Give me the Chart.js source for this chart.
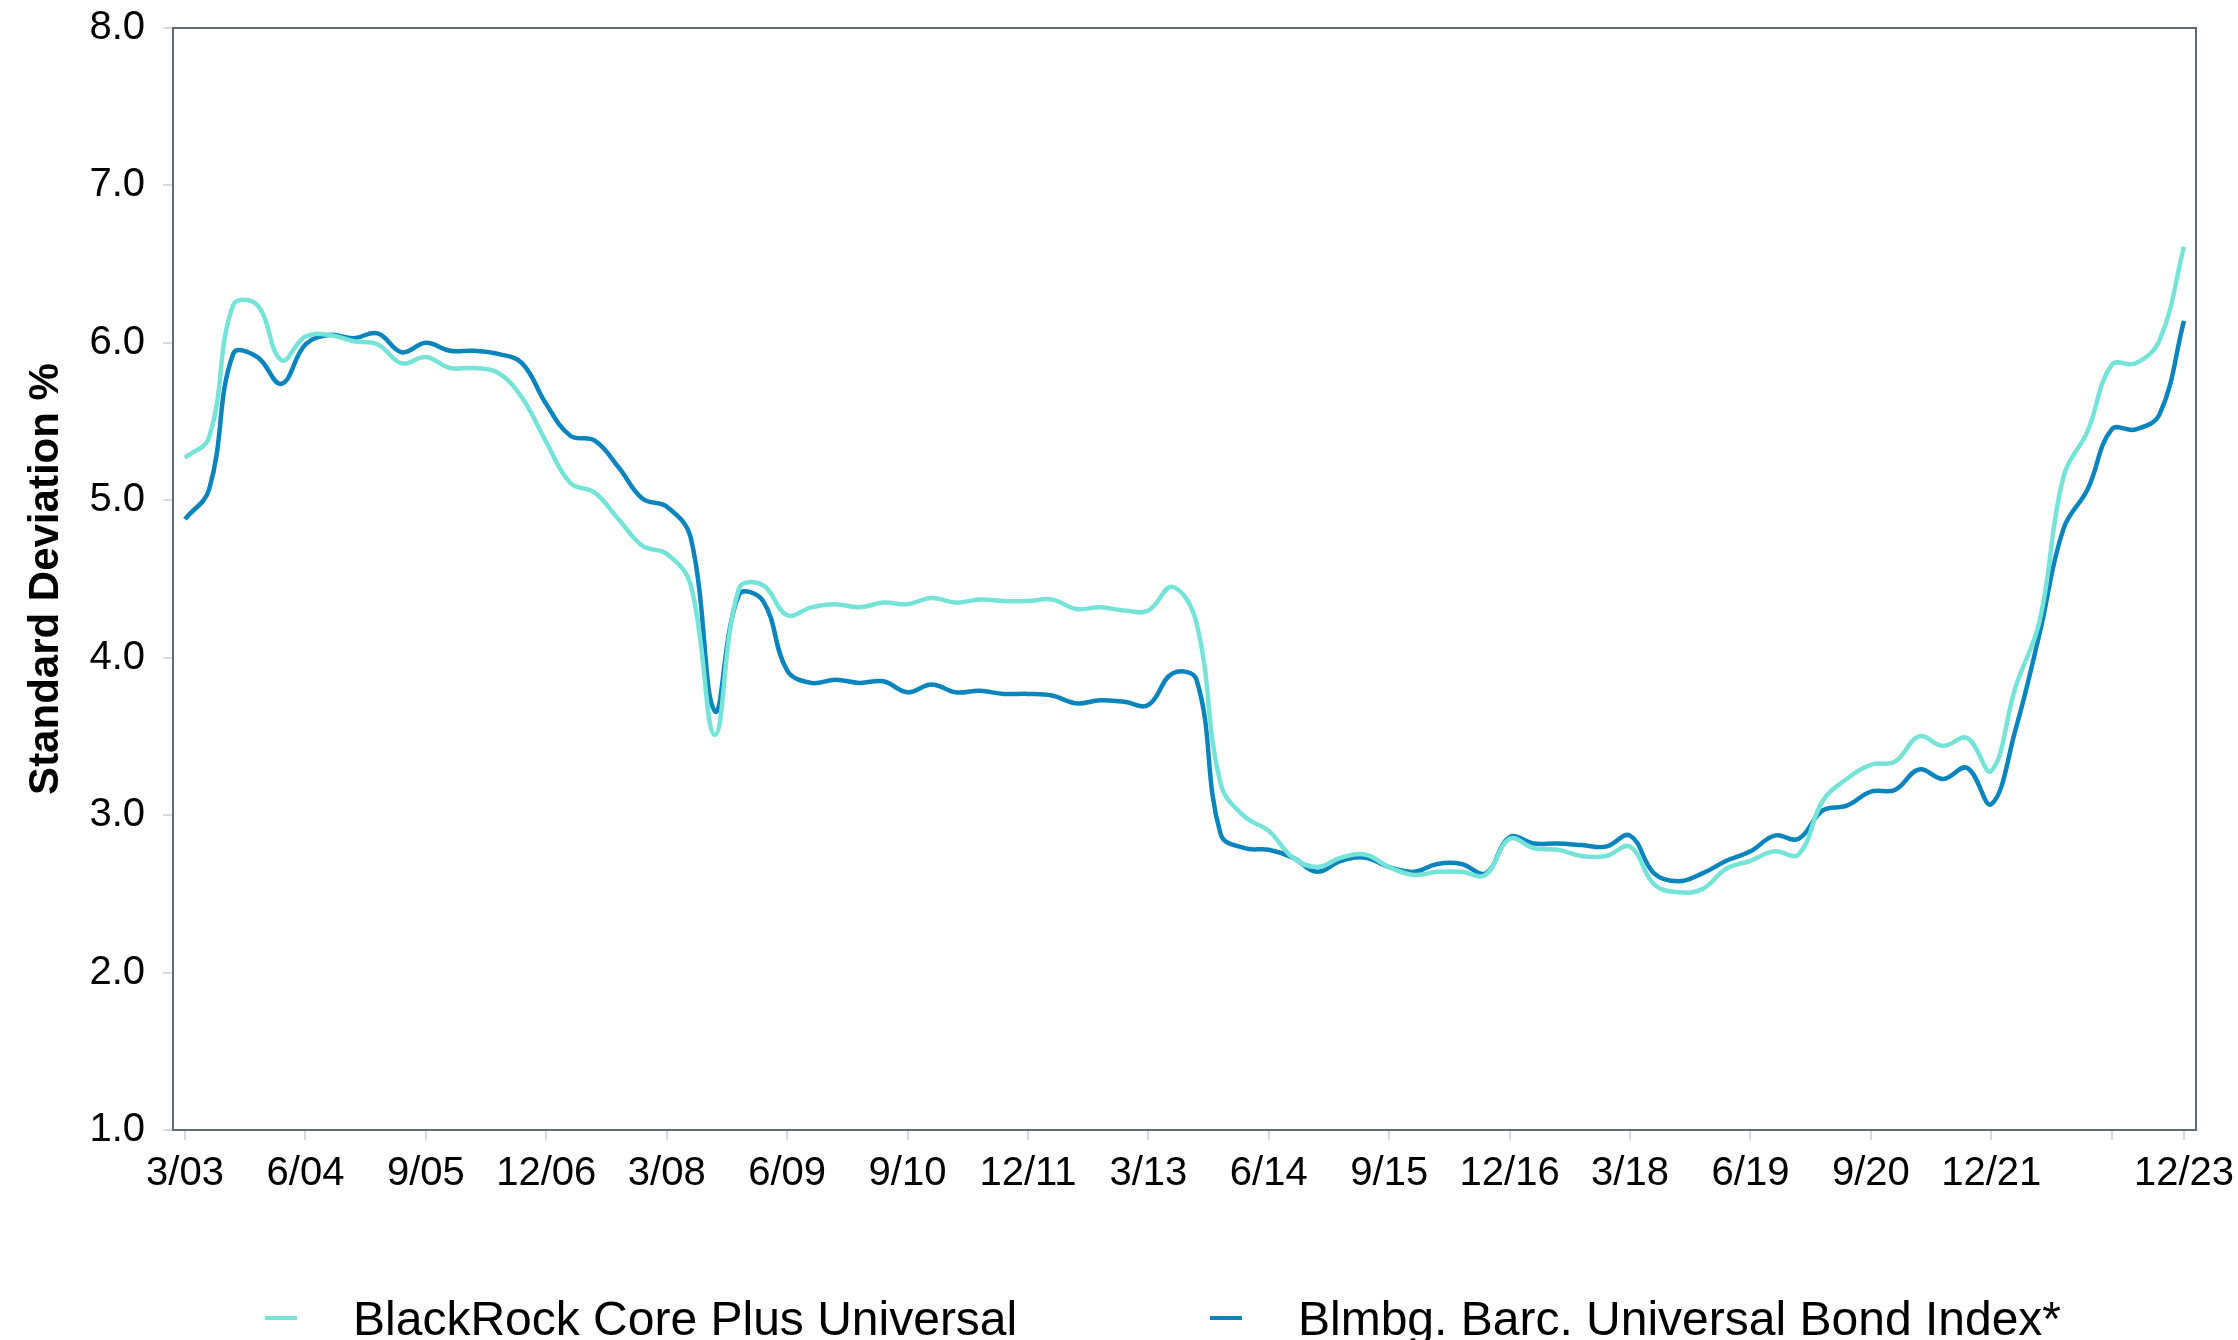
<!DOCTYPE html>
<html>
<head>
<meta charset="utf-8">
<title>Standard Deviation</title>
<script src="https://cdn.jsdelivr.net/npm/chart.js@4.4.1/dist/chart.umd.min.js"></script>
<style>
  html, body { margin: 0; padding: 0; background: #fff; }
  #wrap { width: 2238px; height: 1340px; }
</style>
</head>
<body>
<div id="wrap"><canvas id="chartStdDev" width="2238" height="1340"></canvas></div>
<script>
// ── Data (quarterly, 3/03 → 12/23) ─────────────────────────────────────
const QUARTERS = [
    '3/03', '6/03', '9/03', '12/03',
    '3/04', '6/04', '9/04', '12/04',
    '3/05', '6/05', '9/05', '12/05',
    '3/06', '6/06', '9/06', '12/06',
    '3/07', '6/07', '9/07', '12/07',
    '3/08', '6/08', '9/08', '12/08',
    '3/09', '6/09', '9/09', '12/09',
    '3/10', '6/10', '9/10', '12/10',
    '3/11', '6/11', '9/11', '12/11',
    '3/12', '6/12', '9/12', '12/12',
    '3/13', '6/13', '9/13', '12/13',
    '3/14', '6/14', '9/14', '12/14',
    '3/15', '6/15', '9/15', '12/15',
    '3/16', '6/16', '9/16', '12/16',
    '3/17', '6/17', '9/17', '12/17',
    '3/18', '6/18', '9/18', '12/18',
    '3/19', '6/19', '9/19', '12/19',
    '3/20', '6/20', '9/20', '12/20',
    '3/21', '6/21', '9/21', '12/21',
    '3/22', '6/22', '9/22', '12/22',
    '3/23', '6/23', '9/23', '12/23'
];

// labelled ticks, plus one tick mark drawn without a label
const TICK_LABELS = ['3/03', '6/04', '9/05', '12/06', '3/08', '6/09', '9/10', '12/11',
                     '3/13', '6/14', '9/15', '12/16', '3/18', '6/19', '9/20', '12/21', '12/23'];
const TICK_ONLY   = ['3/23'];

const Y_TICKS = [1, 2, 3, 4, 5, 6, 7, 8];

const BLACKROCK = [
    5.27, 5.40, 6.24, 6.24, 5.89, 6.04, 6.05, 6.01, 5.99, 5.87, 5.91, 5.84,
    5.84, 5.81, 5.65, 5.37, 5.11, 5.05, 4.88, 4.71, 4.66, 4.46, 3.51, 4.44,
    4.46, 4.27, 4.32, 4.34, 4.32, 4.35, 4.34, 4.38, 4.35, 4.37, 4.36, 4.36,
    4.37, 4.31, 4.32, 4.30, 4.30, 4.45, 4.22, 3.20, 2.99, 2.90, 2.73, 2.67,
    2.73, 2.75, 2.67, 2.62, 2.64, 2.64, 2.62, 2.85, 2.79, 2.78, 2.74, 2.74,
    2.80, 2.56, 2.51, 2.53, 2.66, 2.71, 2.77, 2.75, 3.09, 3.23, 3.32, 3.34,
    3.50, 3.44, 3.49, 3.28, 3.81, 4.23, 5.15, 5.44, 5.86, 5.87, 6.02, 6.61
];

const BARC_INDEX = [
    4.88, 5.07, 5.93, 5.91, 5.74, 5.99, 6.05, 6.03, 6.06, 5.94, 6.00, 5.95,
    5.95, 5.93, 5.87, 5.61, 5.41, 5.38, 5.21, 5.01, 4.96, 4.76, 3.66, 4.40,
    4.36, 3.92, 3.84, 3.86, 3.84, 3.85, 3.78, 3.83, 3.78, 3.79, 3.77, 3.77,
    3.76, 3.71, 3.73, 3.72, 3.70, 3.90, 3.86, 2.88, 2.79, 2.78, 2.73, 2.64,
    2.71, 2.73, 2.67, 2.64, 2.69, 2.69, 2.63, 2.86, 2.82, 2.82, 2.81, 2.80,
    2.87, 2.63, 2.58, 2.63, 2.71, 2.77, 2.87, 2.85, 3.03, 3.06, 3.15, 3.16,
    3.29, 3.23, 3.30, 3.07, 3.54, 4.15, 4.82, 5.07, 5.45, 5.45, 5.55, 6.14
];

// ── Styles ──────────────────────────────────────────────────────────────
const FONT     = '"Liberation Sans", Arial, Helvetica, sans-serif';
const TEAL     = '#76E3D8';
const BLUE     = '#0A84BD';
const FRAME    = '#5E6C78';
const TICKLINE = '#D9D9D9';
const LEGEND_X = [265, 1210];
const LEGEND_Y = 1318;

Chart.defaults.font.family = FONT;
Chart.defaults.color = '#000';

// box round the plot area
const frame = {
    id: 'frame',
    afterDatasetsDraw(chart) {
        const a = chart.chartArea;
        const ctx = chart.ctx;
        ctx.save();
        ctx.strokeStyle = FRAME;
        ctx.lineWidth = 2;
        ctx.strokeRect(a.left, a.top, a.right - a.left, a.bottom - a.top);
        ctx.restore();
    }
};

// legend row at the bottom (short dash + label)
const bottomLegend = {
    id: 'bottomLegend',
    afterDraw(chart) {
        const ctx = chart.ctx;
        ctx.save();
        ctx.font = '48px ' + FONT;
        ctx.textBaseline = 'alphabetic';
        chart.data.datasets.forEach((ds, i) => {
            const x = LEGEND_X[i];
            ctx.fillStyle = ds.borderColor;
            ctx.fillRect(x, LEGEND_Y - 2, 32, 4);
            ctx.fillStyle = '#000';
            ctx.fillText(ds.label, x + 88, LEGEND_Y + 17);
        });
        ctx.restore();
    }
};

const isTick = lbl => TICK_LABELS.includes(lbl) || TICK_ONLY.includes(lbl);

new Chart(document.getElementById('chartStdDev'), {
    type: 'line',
    data: {
        labels: QUARTERS,
        datasets: [
            {
                label: 'BlackRock Core Plus Universal',
                data: BLACKROCK,
                borderColor: TEAL,
                backgroundColor: TEAL,
                borderWidth: 4.5,
                pointRadius: 0,
                tension: 0.4,
                fill: false
            },
            {
                label: 'Blmbg. Barc. Universal Bond Index*',
                data: BARC_INDEX,
                borderColor: BLUE,
                backgroundColor: BLUE,
                borderWidth: 4.5,
                pointRadius: 0,
                tension: 0.4,
                fill: false
            }
        ]
    },
    options: {
        responsive: false,
        animation: false,
        devicePixelRatio: 1,
        layout: { padding: { left: 21, top: 28, right: 42, bottom: 130 } },
        plugins: {
            legend:  { display: false },
            tooltip: { enabled: false }
        },
        scales: {
            x: {
                type: 'category',
                offset: true,
                border: { display: false },
                grid: {
                    offset: false,
                    drawOnChartArea: false,
                    drawTicks: true,
                    tickLength: 10,
                    lineWidth: 2,
                    color: ctx => isTick(QUARTERS[ctx.index]) ? TICKLINE : 'rgba(0,0,0,0)'
                },
                ticks: {
                    autoSkip: false,
                    maxRotation: 0,
                    minRotation: 0,
                    padding: 10,
                    font: { size: 40 },
                    color: '#000',
                    callback: function (value) {
                        const lbl = this.getLabelForValue(value);
                        return TICK_LABELS.includes(lbl) ? lbl : '';
                    }
                },
                afterFit: s => { s.height = 80; s.paddingLeft = 0; s.paddingRight = 0; }
            },
            y: {
                min: Y_TICKS[0],
                max: Y_TICKS[Y_TICKS.length - 1],
                border: { display: false },
                grid: {
                    drawOnChartArea: false,
                    drawTicks: true,
                    tickLength: 10,
                    lineWidth: 2,
                    color: TICKLINE
                },
                afterBuildTicks: s => { s.ticks = Y_TICKS.map(v => ({ value: v })); },
                ticks: {
                    padding: 18,
                    font: { size: 40 },
                    color: '#000',
                    callback: v => Number(v).toFixed(1)
                },
                title: {
                    display: true,
                    text: 'Standard Deviation %',
                    color: '#000',
                    font: { size: 42, weight: 'bold' },
                    padding: { top: 0, bottom: 0 }
                },
                afterFit: s => { s.width = 152; s.paddingTop = 0; s.paddingBottom = 0; }
            }
        }
    },
    plugins: [frame, bottomLegend]
});
</script>
</body>
</html>
